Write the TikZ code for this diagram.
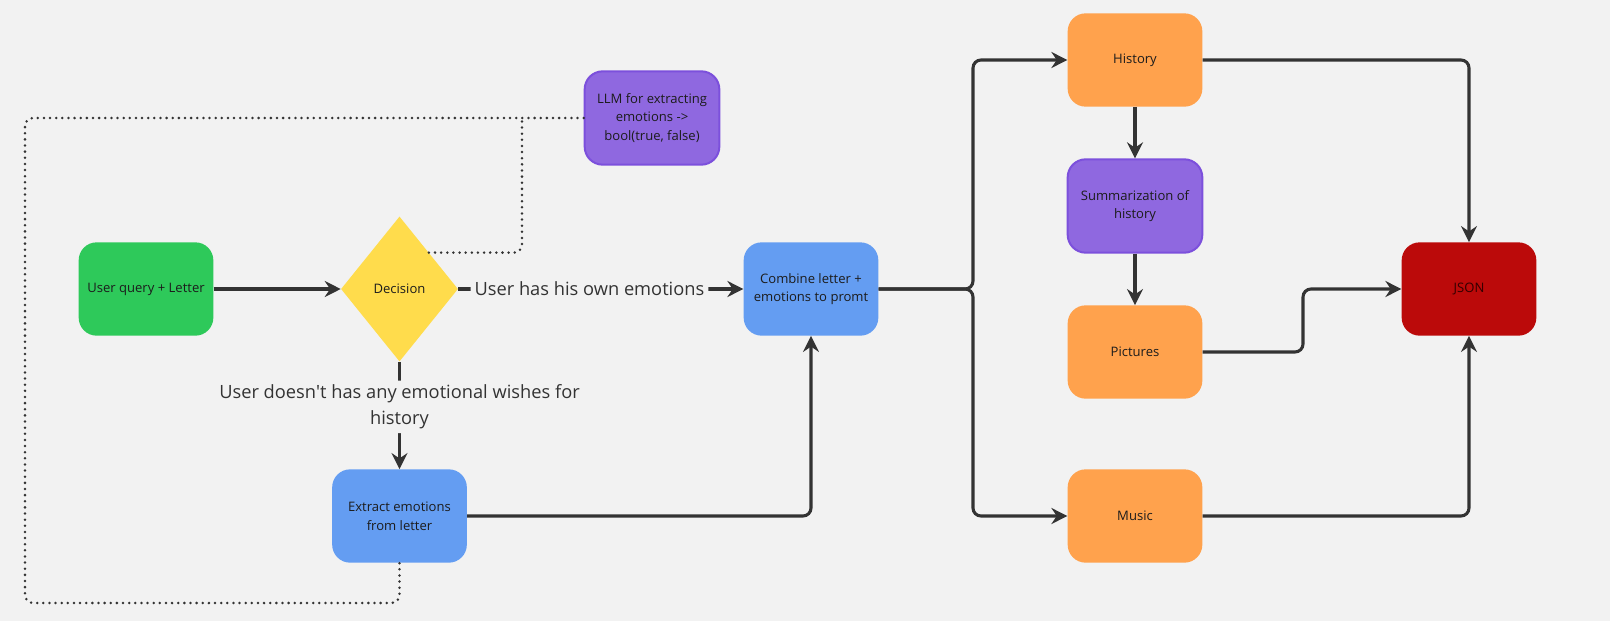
\documentclass[tikz,border=0pt]{standalone}
\usepackage{fontspec}
\setmainfont{Open Sans}
\usetikzlibrary{arrows.meta,shapes.geometric}

\definecolor{bgcol}{RGB}{242,242,242}
\definecolor{linecol}{RGB}{51,51,51}
\definecolor{txtcol}{RGB}{28,28,28}
\definecolor{greenbox}{RGB}{46,201,90}
\definecolor{yellowbox}{RGB}{255,220,76}
\definecolor{purplebox}{RGB}{143,104,224}
\definecolor{purpleline}{RGB}{124,80,220}
\definecolor{bluebox}{RGB}{100,157,242}
\definecolor{orangebox}{RGB}{255,162,77}
\definecolor{redbox}{RGB}{187,10,10}

\tikzset{
    block/.style={rectangle, rounded corners=13.5pt, minimum width=101pt, minimum height=70pt,
        inner sep=2pt, align=center, text=txtcol, font=\fontsize{9.8}{14}\selectfont},
    flow/.style={draw=linecol, line width=2.3pt, rounded corners=6pt,
        -{Stealth[length=12pt, width=12pt, inset=4pt]}},
    dots/.style={draw=linecol, line width=2.1pt, line cap=round, dash pattern=on 0pt off 4.6pt,
        rounded corners=6pt},
    edgelabel/.style={fill=bgcol, text=linecol, inner sep=3pt, align=center,
        font=\fontsize{13.7}{19.5}\selectfont}
}

\begin{document}
\begin{tikzpicture}[x=0.75pt, y=-0.75pt]
    \fill[bgcol] (0,0) rectangle (1610,621);

    \node[block, fill=greenbox] (query) at (146,289) {User query + Letter};
    \node[diamond, fill=yellowbox, minimum width=87.75pt, minimum height=108.75pt, inner sep=0pt,
        text=txtcol, font=\fontsize{9.8}{14}\selectfont] (dec) at (399.5,289) {Decision};
    \node[block, fill=purplebox, draw=purpleline, line width=1.5pt] (llm) at (652,118)
        {LLM for extracting\\emotions ->\\bool(true, false)};
    \node[block, fill=bluebox] (comb) at (811,289) {Combine letter +\\emotions to promt};
    \node[block, fill=bluebox] (extr) at (399.5,516) {Extract emotions\\from letter};
    \node[block, fill=orangebox] (hist) at (1135,60) {History};
    \node[block, fill=purplebox, draw=purpleline, line width=1.5pt] (summ) at (1135,206)
        {Summarization of\\history};
    \node[block, fill=orangebox] (pics) at (1135,352) {Pictures};
    \node[block, fill=orangebox] (music) at (1135,516) {Music};
    \node[block, fill=redbox, text={rgb,255:red,50;green,0;blue,0}] (json) at (1469,289) {JSON};

    \coordinate (split) at (973,289);
    \coordinate (jmid) at (1303,289);
    \coordinate (tap) at (522,118);
    \coordinate (loop) at (25,603);

    \draw[flow] (query) -- (dec);
    \draw[flow] (dec) -- node[edgelabel, pos=0.46] {User has his own emotions} (comb);
    \draw[flow] (dec) -- node[edgelabel, pos=0.42]
        {User doesn\textquotesingle t has any emotional wishes for\\history} (extr);
    \draw[flow] (extr.east) -| (comb.south);
    \draw[flow] (comb.east) -- (split) |- (hist.west);
    \draw[flow] (comb.east) -- (split) |- (music.west);
    \draw[flow] (hist) -- (summ);
    \draw[flow] (summ) -- (pics);
    \draw[flow] (hist.east) -| (json.north);
    \draw[flow] (pics.east) -| (jmid) -- (json.west);
    \draw[flow] (music.east) -| (json.south);

    \draw[dots] (llm.west) -| (loop) -| (extr.south);
    \draw[dots] (dec.north east) -| (tap);
\end{tikzpicture}
\end{document}
